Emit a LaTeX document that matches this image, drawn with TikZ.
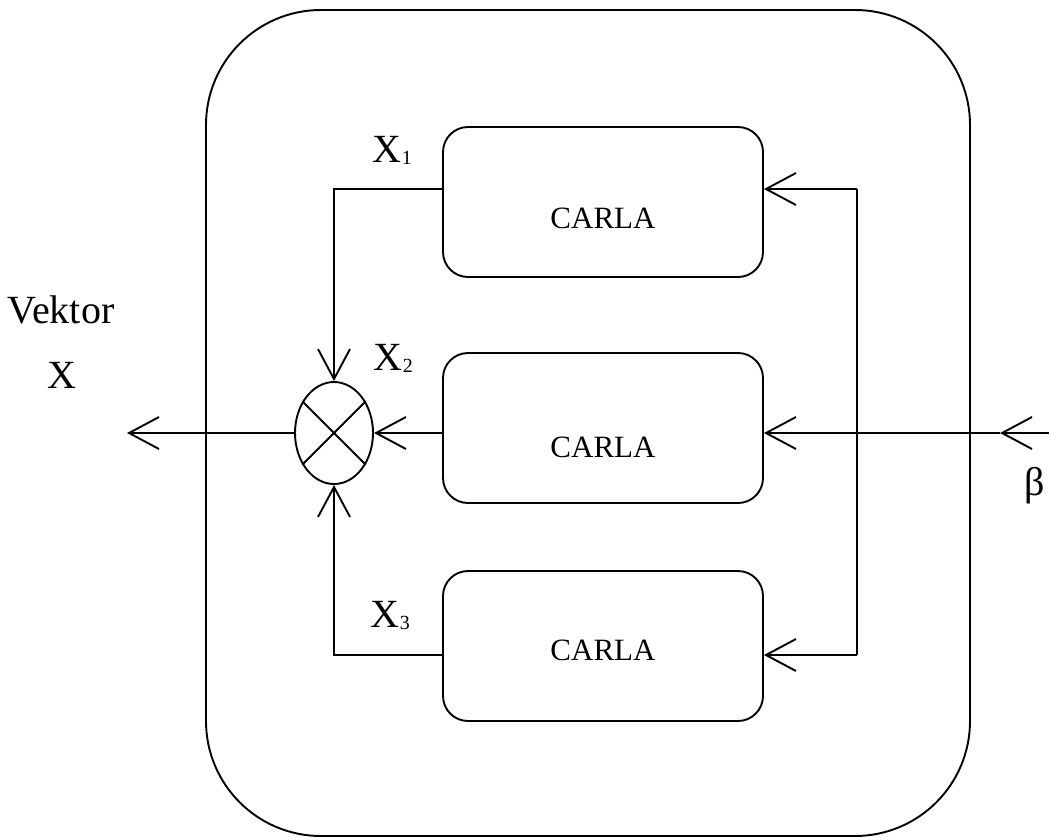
\documentclass[tikz,border=0pt]{standalone}
\usepackage{fontspec}
\setmainfont{Liberation Serif}
\usetikzlibrary{positioning,shapes.geometric,arrows.meta}
\tikzstyle{diagram} = [x = 1pt, y = -1pt, line width = 1.9pt]
\tikzstyle{frameStyle} = [draw, rounded corners = 115pt, minimum width = 764pt, minimum height = 826pt]
\tikzstyle{carlaBox} = [draw, rounded corners = 25pt, minimum width = 320pt, minimum height = 150pt, inner sep = 0pt]
\tikzstyle{carlaText} = [font=\fontsize{31}{36}\selectfont, inner sep = 0pt]
\tikzstyle{labelText} = [font=\fontsize{40}{48}\selectfont, inner sep = 0pt]
\tikzstyle{multStyle} = [draw, ellipse, minimum width = 78pt, minimum height = 102pt, inner sep = 0pt]
\tikzstyle{openArrow} = [-{Straight Barb[length=30pt, width=32pt]}]
\newcommand{\carlaBlock}[3]{\node [carlaBox, label={[carlaText, yshift=-#3pt]center:CARLA}] (#1) at (603,#2) {};}
\newcommand{\xIndex}[1]{X\raisebox{-2pt}{\fontsize{20}{20}\selectfont #1}}

\begin{document}
\begin{tikzpicture}[diagram]
  \useasboundingbox (0,0) rectangle (1049,839);
  \node [frameStyle] (frame) at (588,423) {};

  \carlaBlock{carlaOne}{202}{16}
  \carlaBlock{carlaTwo}{428}{19}
  \carlaBlock{carlaThree}{646}{4}

  \node [multStyle] (mult) at (334,433) {};
  \draw (mult.135) -- (mult.-45);
  \draw (mult.45) -- (mult.-135);

  % bus on the right
  \coordinate (jOne) at (857,189);
  \coordinate (jTwo) at (857,433);
  \coordinate (jThree) at (857,655);
  \coordinate (betaIn) at (1049,433);
  \coordinate (betaTip) at (1000,433);
  \coordinate (outTip) at (127,433);

  \draw (jOne) -- (jThree);
  \draw [openArrow] (jOne) -- (carlaOne.east |- jOne);
  \draw [openArrow] (jTwo) -- (carlaTwo.east |- jTwo);
  \draw [openArrow] (jThree) -- (carlaThree.east |- jThree);
  \draw [openArrow] (betaIn) -- (betaTip);
  \draw (betaTip) -- (jTwo);

  % outputs into the multiplier
  \draw [openArrow] (carlaOne.west |- jOne) -| (mult.north);
  \draw [openArrow] (carlaThree.west |- jThree) -| (mult.south);
  \draw [openArrow] (carlaTwo.west |- mult.east) -- (mult.east);
  \draw [openArrow] (mult.west) -- (outTip);

  % labels
  \node [labelText] (vektorLabel) at (61,310) {Vektor};
  \node [labelText] (xLabel) at (62,375) {X};
  \node [labelText, anchor=base west] (xOne) at (372,162) {\xIndex{1}};
  \node [labelText, anchor=base west] (xTwo) at (373,370) {\xIndex{2}};
  \node [labelText, anchor=base west] (xThree) at (370,627) {\xIndex{3}};
  \node [labelText] (betaLabel) at (1035,486) {β};
\end{tikzpicture}
\end{document}
